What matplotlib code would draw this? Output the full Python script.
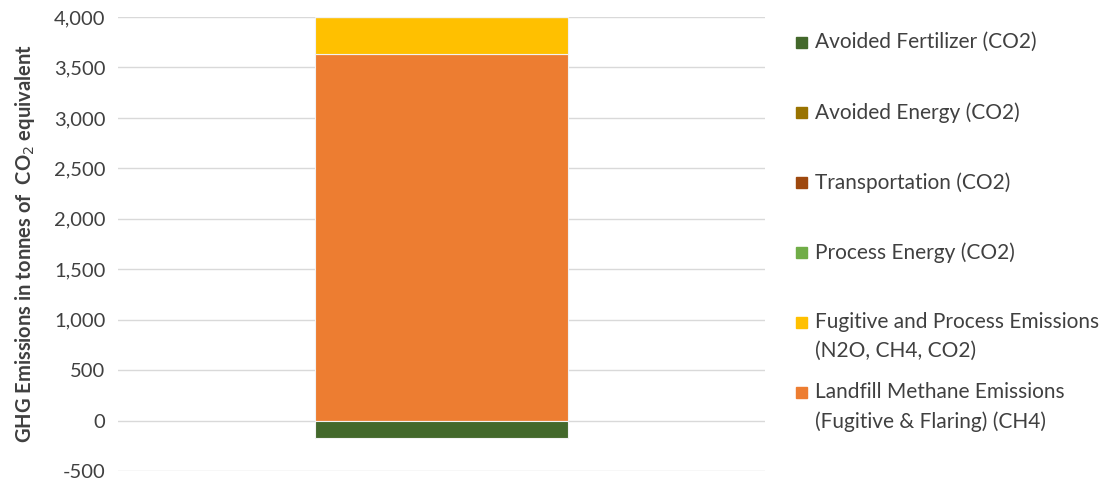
import matplotlib
matplotlib.use("Agg")
import matplotlib.pyplot as plt
from matplotlib.patches import Rectangle
from matplotlib.ticker import FuncFormatter

plt.rcParams['font.family'] = ['Lato', 'DejaVu Sans']

categories = [""]
series_names = [
    "Avoided Fertilizer (CO2)",
    "Avoided Energy (CO2)",
    "Transportation (CO2)",
    "Process Energy (CO2)",
    "Fugitive and Process Emissions\n(N2O, CH4, CO2)",
    "Landfill Methane Emissions\n(Fugitive & Flaring) (CH4)",
]
series_values = [-170, 0, 0, 0, 370, 3630]
series_colors = ["#43682B", "#997300", "#9E480E", "#70AD47", "#FFC000", "#ED7D31"]
yticks = [-500, 0, 500, 1000, 1500, 2000, 2500, 3000, 3500, 4000]

W, H = 1109, 483
fig = plt.figure(figsize=(11.09, 4.83), dpi=100)
ax = fig.add_axes([118 / W, 12 / H, 647 / W, 454 / H])

# stacking order: draw from the bottom series (Landfill) upward, negatives downward
pos_base = 0.0
neg_base = 0.0
order = [5, 4, 3, 2, 1, 0]
for i in order:
    v = series_values[i]
    if v >= 0:
        ax.bar(0, v, bottom=pos_base, width=0.39, color=series_colors[i],
               edgecolor="#F2F2F2", linewidth=0.8, zorder=3)
        pos_base += v
    else:
        ax.bar(0, v, bottom=neg_base, width=0.39, color=series_colors[i],
               edgecolor="#F2F2F2", linewidth=0.8, zorder=3)
        neg_base += v

ax.set_xlim(-0.5, 0.5)
ax.set_ylim(-500, 4000)
ax.set_yticks(yticks)
ax.yaxis.set_major_formatter(FuncFormatter(lambda v, p: f"{int(v):,}"))
ax.set_xticks([])
ax.tick_params(axis='y', length=0, labelsize=14.5, colors="#404040", pad=9)
ax.grid(axis='y', color="#D9D9D9", linewidth=1.0, zorder=0)
for s in ax.spines.values():
    s.set_visible(False)
ax.set_ylabel("GHG Emissions in tonnes of  CO$_2$ equivalent", fontsize=14.5,
              fontweight='bold', color="#404040", labelpad=12)

# legend (manual, Excel-like spacing)
leg_y = [42, 112, 182, 252, 322, 392]
for name, col, y in zip(series_names, series_colors, leg_y):
    fig.patches.append(Rectangle((796 / W, 1 - (y + 5.5) / H), 11 / W, 11 / H,
                                 transform=fig.transFigure, color=col, figure=fig))
    fig.text(815 / W, 1 - (y - 10) / H, name, fontsize=15, color="#404040",
             va='top', ha='left', linespacing=1.55)

fig.savefig("out.png", dpi=100)
